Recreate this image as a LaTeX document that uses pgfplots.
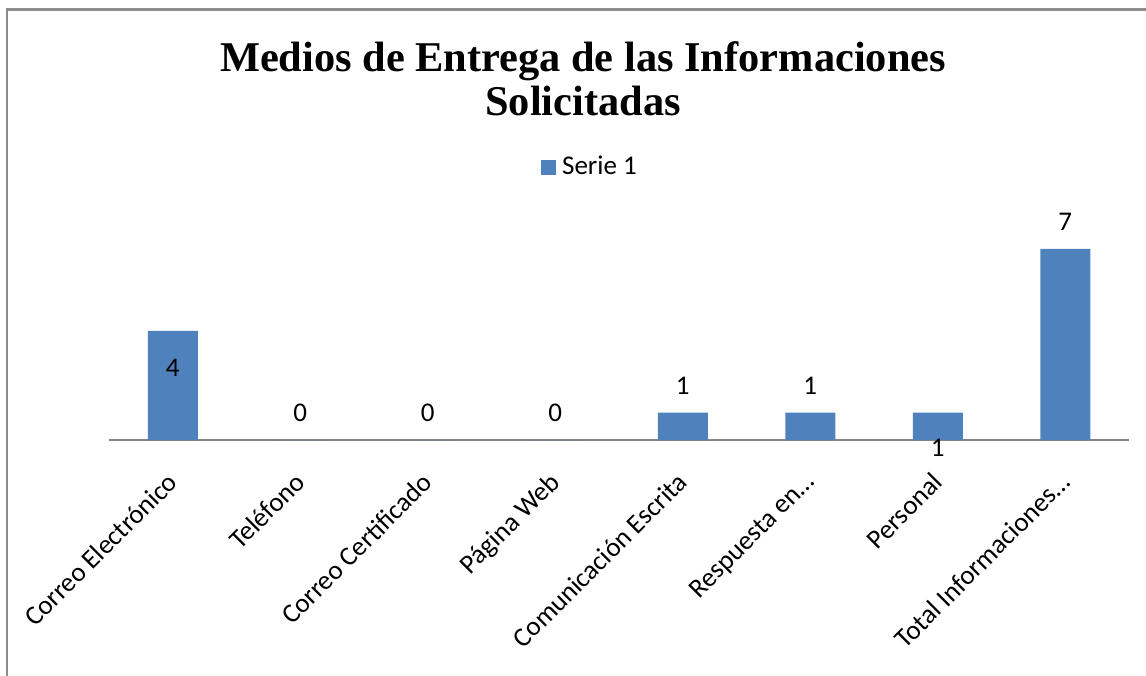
\documentclass[border=0pt]{standalone}
\usepackage{pgfplots}
\pgfplotsset{compat=1.18}
\usepackage{fontspec}
\setmainfont{Carlito}
\newfontfamily\titlefont{Liberation Serif}
\definecolor{barblue}{HTML}{4F81BD}
\definecolor{axgray}{HTML}{868686}
\definecolor{framegray}{HTML}{8C8C8C}
\begin{document}
\begin{tikzpicture}[x=0.5pt,y=0.5pt]
\useasboundingbox (0,0) rectangle (1146,-675);
\draw[framegray, line width=1.2pt] (7,-690) -- (7,-9.5) -- (1160,-9.5);
\begin{axis}[
  at={(54.5pt,-220pt)}, anchor=south west,
  scale only axis, width=510pt, height=109.2pt,
  xmin=-0.5, xmax=7.5, ymin=0, ymax=8,
  clip=false,
  axis x line=bottom, axis y line=none,
  axis line style={axgray, line width=1pt, -},
  xtick={0,...,7}, xtick style={draw=none},
  xticklabels={Correo Electrónico, Teléfono, Correo Certificado, Página Web, Comunicación Escrita, Respuesta en…, Personal, Total Informaciones…},
  xticklabel style={font=\fontsize{13.5}{16}\selectfont, yshift=-13pt, xshift=-3.5pt, rotate=45, anchor=north east, inner sep=0pt},
  /pgf/number format/assume math mode=true,
  title={Medios de Entrega de las Informaciones\\Solicitadas},
  title style={at={(0.4647,1.60)}, anchor=center, align=center, font=\titlefont\bfseries\fontsize{21.2}{22}\selectfont},
  legend style={at={(0.4725,1.25)}, anchor=center, draw=none, fill=none, font=\fontsize{13.5}{16}\selectfont},
  legend image code/.code={\fill[barblue] (0pt,-3.75pt) rectangle (7.5pt,3.75pt);},
]
\addplot[ybar, bar width=25pt, fill=barblue, draw=none] coordinates {(0,4) (1,0) (2,0) (3,0) (4,1) (5,1) (6,1) (7,7)};
\addlegendentry{\hspace{1pt}Serie 1}
\addplot[forget plot, draw=none, point meta=y, nodes near coords,
  nodes near coords style={anchor=center, yshift=13.5pt, font=\fontsize{13.5}{16}\selectfont}]
  coordinates {(1,0) (2,0) (3,0) (4,1) (5,1) (7,7)};
\addplot[forget plot, draw=none, point meta=y, nodes near coords,
  nodes near coords style={anchor=center, yshift=-18.5pt, font=\fontsize{13.5}{16}\selectfont}]
  coordinates {(0,4)};
\addplot[forget plot, draw=none, point meta=y, nodes near coords,
  nodes near coords style={anchor=center, yshift=-17.5pt, font=\fontsize{13.5}{16}\selectfont}]
  coordinates {(6,1)};
\end{axis}
\end{tikzpicture}
\end{document}
